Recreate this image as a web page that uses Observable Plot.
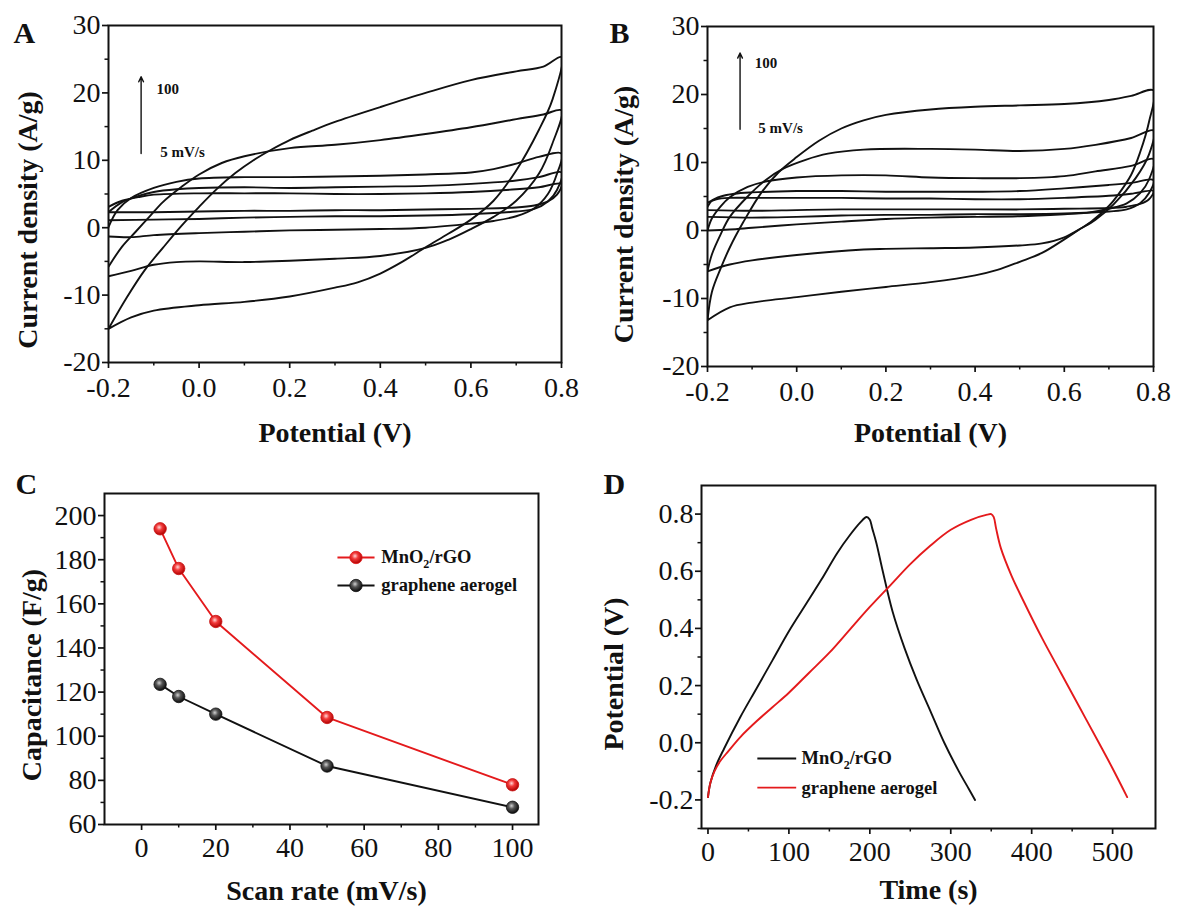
<!DOCTYPE html>
<html><head><meta charset="utf-8">
<script src="https://cdn.jsdelivr.net/npm/d3@7"></script>
<script src="https://cdn.jsdelivr.net/npm/@observablehq/plot@0.6"></script>
<style>
html,body{margin:0;padding:0;background:#fff;}
#fig{position:relative;width:1182px;height:911px;overflow:hidden;background:#fff;}
.panel{position:absolute;}
</style></head><body>
<svg width="0" height="0" style="position:absolute">
<defs>
<radialGradient id="ballRed" cx="42%" cy="38%" r="62%">
<stop offset="0%" stop-color="#ffd6d6"/><stop offset="40%" stop-color="#f23a3a"/><stop offset="100%" stop-color="#b00000"/>
</radialGradient>
<radialGradient id="ballBlack" cx="42%" cy="38%" r="62%">
<stop offset="0%" stop-color="#d0d0d0"/><stop offset="40%" stop-color="#555"/><stop offset="100%" stop-color="#0a0a0a"/>
</radialGradient>
</defs></svg>
<div id="fig"></div>
<script>
// ---------------- DATA ----------------
// Panel A: CV loops of MnO2/rGO (potential V, current A/g); upper branch then lower branch
const A5 = [[-0.2,3.1],[-0.17,4.0],[-0.13,4.6],[-0.1,4.9],[0.0,5.1],[0.1,5.1],[0.2,5.1],[0.3,5.0],[0.4,5.0],[0.5,5.1],[0.6,5.3],[0.7,5.7],[0.75,6.0],[0.8,6.5],
  [0.79,4.9],[0.77,3.9],[0.74,3.3],[0.7,3.0],[0.6,2.8],[0.5,2.7],[0.4,2.6],[0.3,2.6],[0.2,2.5],[0.1,2.5],[0.0,2.4],[-0.1,2.3],[-0.2,2.3]];
const A10 = [[-0.2,2.3],[-0.17,3.8],[-0.13,4.8],[-0.1,5.3],[-0.05,5.7],[0.0,5.9],[0.1,6.0],[0.2,5.9],[0.3,6.0],[0.4,6.1],[0.5,6.2],[0.6,6.5],[0.7,7.0],[0.75,7.5],[0.8,8.2],
  [0.79,5.6],[0.77,3.9],[0.74,2.8],[0.7,2.4],[0.6,2.0],[0.5,1.8],[0.4,1.7],[0.3,1.7],[0.2,1.6],[0.1,1.5],[0.0,1.3],[-0.1,1.2],[-0.2,1.1]];
const A20 = [[-0.2,0.1],[-0.18,2.6],[-0.15,4.4],[-0.1,5.9],[-0.05,6.8],[0.0,7.3],[0.1,7.5],[0.2,7.5],[0.3,7.6],[0.4,7.7],[0.5,7.9],[0.6,8.2],[0.65,8.7],[0.7,9.5],[0.75,10.5],[0.8,11.0],
  [0.79,8.0],[0.77,5.0],[0.74,2.9],[0.7,1.7],[0.65,1.0],[0.6,0.6],[0.5,0.0],[0.4,-0.2],[0.3,-0.3],[0.2,-0.4],[0.1,-0.6],[0.0,-0.8],[-0.1,-1.1],[-0.15,-1.4],[-0.2,-1.3]];
const A50 = [[-0.2,-5.8],[-0.17,-2.8],[-0.14,-0.6],[-0.11,1.6],[-0.08,3.8],[-0.04,6.0],[0.0,7.9],[0.05,9.6],[0.1,10.6],[0.2,11.8],[0.3,12.3],[0.4,13.0],[0.5,13.9],[0.6,14.9],[0.7,16.1],[0.76,16.8],[0.8,17.4],
  [0.78,12.5],[0.75,8.0],[0.7,4.0],[0.65,1.6],[0.6,-0.2],[0.55,-1.8],[0.5,-3.0],[0.4,-4.2],[0.3,-4.6],[0.2,-4.9],[0.1,-5.1],[0.0,-5.0],[-0.05,-5.1],[-0.1,-5.5],[-0.15,-6.4],[-0.2,-7.2]];
const A100 = [[-0.2,-15.0],[-0.16,-10.4],[-0.12,-6.3],[-0.08,-3.0],[-0.04,0.2],[0.0,3.1],[0.04,5.8],[0.08,8.1],[0.12,10.0],[0.16,11.6],[0.2,13.0],[0.25,14.4],[0.3,15.7],[0.4,17.9],[0.5,20.0],[0.6,21.9],[0.7,23.2],[0.76,23.9],[0.8,25.3],
  [0.78,19.0],[0.75,14.5],[0.7,8.5],[0.65,4.0],[0.6,1.2],[0.55,-0.9],[0.5,-2.9],[0.45,-5.0],[0.4,-6.8],[0.35,-8.1],[0.3,-8.9],[0.2,-10.2],[0.1,-11.0],[0.0,-11.5],[-0.1,-12.3],[-0.15,-13.3],[-0.2,-15.0]];

// Panel B: CV loops of graphene aerogel
const B5 = [[-0.2,4.1],[-0.18,4.6],[-0.15,4.8],[-0.1,4.8],[0.0,4.8],[0.1,4.8],[0.2,4.7],[0.3,4.7],[0.4,4.6],[0.5,4.6],[0.6,4.8],[0.7,5.1],[0.75,5.4],[0.8,5.8],
  [0.79,4.6],[0.77,3.9],[0.74,3.5],[0.7,3.3],[0.6,3.2],[0.5,3.1],[0.4,3.1],[0.3,3.1],[0.2,3.1],[0.1,3.1],[0.0,3.0],[-0.1,2.9],[-0.2,3.0]];
const B10 = [[-0.2,3.5],[-0.19,4.4],[-0.17,5.0],[-0.14,5.4],[-0.1,5.6],[0.0,5.8],[0.1,5.8],[0.2,5.7],[0.3,5.7],[0.4,5.7],[0.5,5.8],[0.6,6.2],[0.7,6.7],[0.75,7.0],[0.8,7.4],
  [0.79,5.5],[0.77,4.0],[0.74,3.1],[0.7,2.8],[0.6,2.5],[0.5,2.4],[0.4,2.4],[0.3,2.3],[0.2,2.3],[0.1,2.2],[0.0,2.0],[-0.1,1.9],[-0.2,2.0]];
const B20 = [[-0.2,0.0],[-0.19,1.8],[-0.17,3.6],[-0.15,4.9],[-0.11,6.4],[-0.07,7.2],[0.0,7.8],[0.1,8.1],[0.2,8.1],[0.3,7.8],[0.4,7.7],[0.5,7.7],[0.6,8.0],[0.67,8.7],[0.75,9.5],[0.8,10.5],
  [0.79,7.5],[0.77,5.5],[0.74,4.0],[0.7,3.2],[0.65,2.6],[0.6,2.4],[0.5,2.1],[0.4,2.0],[0.3,1.9],[0.2,1.7],[0.1,1.3],[0.0,0.9],[-0.1,0.4],[-0.15,0.15],[-0.2,0.0]];
const B50 = [[-0.2,-6.0],[-0.19,-3.5],[-0.17,-0.5],[-0.15,2.0],[-0.11,5.0],[-0.07,7.4],[-0.03,9.1],[0.02,10.4],[0.07,11.3],[0.15,11.9],[0.3,12.0],[0.4,11.9],[0.5,11.7],[0.6,12.0],[0.67,12.6],[0.75,13.6],[0.8,14.7],
  [0.79,11.2],[0.76,7.7],[0.71,3.8],[0.67,1.6],[0.64,0.4],[0.6,-1.0],[0.55,-1.9],[0.5,-2.2],[0.4,-2.5],[0.3,-2.6],[0.2,-2.7],[0.15,-2.8],[0.0,-3.6],[-0.1,-4.4],[-0.15,-5.0],[-0.2,-6.0]];
const B100 = [[-0.2,-13.2],[-0.19,-9.0],[-0.17,-5.5],[-0.15,-2.5],[-0.12,1.2],[-0.08,5.5],[-0.04,8.6],[0.0,10.8],[0.05,13.2],[0.1,15.0],[0.15,16.2],[0.2,17.0],[0.3,17.8],[0.4,18.2],[0.5,18.4],[0.6,18.6],[0.7,19.2],[0.75,19.8],[0.8,20.6],
  [0.79,16.0],[0.77,11.5],[0.75,8.2],[0.72,5.2],[0.7,3.6],[0.66,1.3],[0.63,0.0],[0.6,-1.3],[0.55,-3.3],[0.5,-4.6],[0.45,-5.8],[0.4,-6.6],[0.3,-7.6],[0.2,-8.3],[0.1,-9.0],[0.0,-9.8],[-0.1,-10.6],[-0.15,-11.3],[-0.2,-13.2]];

const scanRates = [5, 10, 20, 50, 100];

// Panel C: capacitance vs scan rate
const capScan = [5, 10, 20, 50, 100];
const capMnO2 = [194, 176, 152, 108.5, 78];
const capAerogel = [123.5, 118, 110, 86.5, 67.8];

// Panel D: galvanostatic charge/discharge
const gcdBlackT = [0,3,10,20,40,60,80,100,120,140,160,175,188,196,200,203,208,216,228,243,258,275,292,310,322,330];
const gcdBlackV = [-0.19,-0.14,-0.08,-0.02,0.09,0.19,0.29,0.39,0.48,0.57,0.665,0.725,0.77,0.79,0.78,0.75,0.70,0.60,0.46,0.33,0.22,0.11,0.0,-0.1,-0.16,-0.2];
const gcdRedT = [0,3,8,15,25,40,60,80,100,125,150,175,200,225,250,275,300,325,345,350,353,356,362,375,390,413,436,459,482,500,518];
const gcdRedV = [-0.19,-0.14,-0.10,-0.065,-0.03,0.02,0.075,0.125,0.175,0.245,0.315,0.395,0.475,0.55,0.625,0.69,0.745,0.78,0.798,0.8,0.79,0.75,0.68,0.585,0.495,0.365,0.245,0.125,0.005,-0.09,-0.19];

// tick values
const cvXMajor = [-0.2, 0.0, 0.2, 0.4, 0.6, 0.8];
const cvXMinor = [-0.1, 0.1, 0.3, 0.5, 0.7];
const cvYMajor = [-20, -10, 0, 10, 20, 30];
const cvYMinor = [-15, -5, 5, 15, 25];
const cXMajor = [0, 20, 40, 60, 80, 100];
const cXMinor = [10, 30, 50, 70, 90];
const cYMajor = [60, 80, 100, 120, 140, 160, 180, 200];
const cYMinor = [70, 90, 110, 130, 150, 170, 190];
const dXMajor = [0, 100, 200, 300, 400, 500];
const dXMinor = [50, 150, 250, 350, 450];
const dYMajor = [-0.2, 0.0, 0.2, 0.4, 0.6, 0.8];
const dYMinor = [-0.3, -0.1, 0.1, 0.3, 0.5, 0.7];

// ---------------- DRAW ----------------
const FONT = "'Liberation Serif','Times New Roman',Times,serif";
const INK = "#111";
const RED = "#e41a1c";
const TICK_FS = 28;
const LABEL_FS = 28;
const fig = document.getElementById("fig");
const fmt1 = d => d.toFixed(1);
const fmt0 = d => String(d);

function place(svg, left, top) {
  const d = document.createElement("div");
  d.className = "panel"; d.style.left = left + "px"; d.style.top = top + "px";
  d.appendChild(svg); fig.appendChild(d);
  // subscript for MnO2
  d.querySelectorAll("text").forEach(t => {
    if (t.textContent === "MnO2/rGO") {
      t.textContent = "";
      const ns = "http://www.w3.org/2000/svg";
      const a = document.createElementNS(ns, "tspan"); a.textContent = "MnO";
      const b = document.createElementNS(ns, "tspan"); b.textContent = "2"; b.setAttribute("dy", "0.35em"); b.setAttribute("font-size", "65%");
      const c = document.createElementNS(ns, "tspan"); c.textContent = "/rGO"; c.setAttribute("dy", "-0.23em");
      t.append(a, b, c);
    }
  });
}

function axes(xMajor, xMinor, yMajor, yMinor, xfmt, yfmt, xpad) {
  return [
    Plot.axisX({ticks: xMajor, tickSize: 6, tickPadding: xpad, tickFormat: xfmt, fontSize: TICK_FS, label: null, strokeWidth: 1.7, stroke: INK, fill: INK}),
    Plot.axisX({ticks: xMinor, tickSize: 3.5, tickFormat: () => "", label: null, strokeWidth: 1.5, stroke: INK}),
    Plot.axisY({ticks: yMajor, tickSize: 6, tickPadding: 2, tickFormat: yfmt, fontSize: TICK_FS, label: null, strokeWidth: 1.7, stroke: INK, fill: INK}),
    Plot.axisY({ticks: yMinor, tickSize: 3.5, tickFormat: () => "", label: null, strokeWidth: 1.5, stroke: INK}),
    Plot.frame({stroke: INK, strokeWidth: 2})
  ];
}

function labels(xl, yl, o) {
  return [
    Plot.text([xl], {text: d => d, frameAnchor: "bottom", dx: o.xdx || 0, dy: o.xdy, textAnchor: "middle", lineAnchor: "middle", fontSize: LABEL_FS, fontWeight: "bold", fill: INK}),
    Plot.text([yl], {text: d => d, frameAnchor: "left", dx: o.ydx, dy: o.ydy, rotate: -90, textAnchor: "middle", lineAnchor: "middle", fontSize: LABEL_FS, fontWeight: "bold", fill: INK}),
    Plot.text([o.letter], {text: d => d, frameAnchor: "top-left", dx: o.ldx, dy: o.ldy, textAnchor: "start", lineAnchor: "bottom", fontSize: 30, fontWeight: "bold", fill: INK})
  ];
}

function cvRows(loops) {
  const rows = [];
  loops.forEach((pts, k) => pts.forEach(([x, y]) => rows.push({rate: scanRates[k], x, y})));
  return rows;
}

function cvPanel(loops, arrow, notes, lay) {
  return Plot.plot({
    width: lay.width, height: lay.height,
    marginTop: lay.mt, marginRight: lay.mr, marginBottom: lay.mb, marginLeft: lay.ml,
    x: {domain: [-0.2, 0.8]}, y: {domain: [-20, 30]},
    style: {fontFamily: FONT, background: "transparent", color: INK, overflow: "visible"},
    marks: [
      Plot.line(cvRows(loops), {x: "x", y: "y", z: "rate", stroke: INK, strokeWidth: 1.9, curve: "catmull-rom", clip: true}),
      Plot.arrow(arrow, {x1: "x", x2: "x", y1: "y1", y2: "y2", stroke: INK, strokeWidth: 1.4, headLength: 6, headAngle: 50}),
      Plot.text(notes, {x: "x", y: "y", text: "t", textAnchor: "start", fontSize: 15, fontWeight: "bold", fill: INK}),
      ...axes(cvXMajor, cvXMinor, cvYMajor, cvYMinor, fmt1, fmt0, 9),
      ...labels("Potential (V)", "Current density (A/g)", lay)
    ]
  });
}

// Panel A
place(cvPanel([A5, A10, A20, A50, A100],
  [{x: -0.128, y1: 11.0, y2: 22.4}],
  [{x: -0.094, y: 20.6, t: "100"}, {x: -0.086, y: 11.2, t: "5 mV/s"}],
  {width: 590, height: 450, mt: 25, mr: 29, mb: 88, ml: 108, xdy: 71, ydx: -80, ydy: 26, letter: "A", ldx: -95, ldy: 17}), 0, 0);

// Panel B
place(cvPanel([B5, B10, B20, B50, B100],
  [{x: -0.127, y1: 14.9, y2: 26.1}],
  [{x: -0.094, y: 24.6, t: "100"}, {x: -0.086, y: 15.0, t: "5 mV/s"}],
  {width: 592, height: 450, mt: 26, mr: 29, mb: 84, ml: 117, xdy: 67, ydx: -83, ydy: 18, letter: "B", ldx: -98, ldy: 16}), 590, 0);

// Panel C
const capRows = [
  ...capScan.map((s, i) => ({s, c: capMnO2[i], series: "MnO2/rGO"})),
  ...capScan.map((s, i) => ({s, c: capAerogel[i], series: "graphene aerogel"}))
];
const legendC = [
  {label: "MnO2/rGO", color: RED, ball: "url(#ballRed)", y: 181},
  {label: "graphene aerogel", color: INK, ball: "url(#ballBlack)", y: 168.3}
];
const plotC = Plot.plot({
  width: 590, height: 461, marginTop: 43, marginRight: 52, marginBottom: 87, marginLeft: 104,
  x: {domain: [-10, 107]}, y: {domain: [60, 210]},
  style: {fontFamily: FONT, background: "transparent", color: INK, overflow: "visible"},
  marks: [
    Plot.line(capRows.filter(d => d.series === "MnO2/rGO"), {x: "s", y: "c", stroke: RED, strokeWidth: 1.9}),
    Plot.line(capRows.filter(d => d.series !== "MnO2/rGO"), {x: "s", y: "c", stroke: INK, strokeWidth: 1.9}),
    Plot.dot(capRows.filter(d => d.series === "MnO2/rGO"), {x: "s", y: "c", r: 6.2, fill: "url(#ballRed)", stroke: "#c81010", strokeWidth: 0.8}),
    Plot.dot(capRows.filter(d => d.series !== "MnO2/rGO"), {x: "s", y: "c", r: 6.2, fill: "url(#ballBlack)", stroke: "#111", strokeWidth: 0.8}),
    Plot.link(legendC, {x1: () => 52.8, x2: () => 62.8, y1: "y", y2: "y", stroke: "color", strokeWidth: 1.9}),
    Plot.dot(legendC, {x: () => 57.8, y: "y", r: 6.2, fill: "ball", stroke: "color", strokeWidth: 0.8}),
    Plot.text(legendC, {x: () => 64.6, y: "y", text: "label", textAnchor: "start", fontSize: 18.5, fontWeight: "bold", fill: INK}),
    ...axes(cXMajor, cXMinor, cYMajor, cYMinor, fmt0, fmt0, 7),
    ...labels("Scan rate (mV/s)", "Capacitance (F/g)", {xdx: 5, xdy: 67, ydx: -72, ydy: 16, letter: "C", ldx: -89, ldy: 0})
  ]
});
place(plotC, 0, 450);

// Panel D
const gcdBlack = gcdBlackT.map((t, i) => ({t, v: gcdBlackV[i]}));
const gcdRed = gcdRedT.map((t, i) => ({t, v: gcdRedV[i]}));
const legendD = [
  {label: "MnO2/rGO", color: INK, y: -0.055},
  {label: "graphene aerogel", color: RED, y: -0.157}
];
const plotD = Plot.plot({
  width: 592, height: 461, marginTop: 35, marginRight: 27, marginBottom: 83, marginLeft: 111,
  x: {domain: [-8, 553]}, y: {domain: [-0.3, 0.9]},
  style: {fontFamily: FONT, background: "transparent", color: INK, overflow: "visible"},
  marks: [
    Plot.line(gcdBlack, {x: "t", y: "v", stroke: INK, strokeWidth: 1.9, curve: "catmull-rom"}),
    Plot.line(gcdRed, {x: "t", y: "v", stroke: RED, strokeWidth: 1.9, curve: "catmull-rom"}),
    Plot.link(legendD, {x1: () => 61, x2: () => 109, y1: "y", y2: "y", stroke: "color", strokeWidth: 1.9}),
    Plot.text(legendD, {x: () => 115.6, y: "y", text: "label", textAnchor: "start", fontSize: 18.5, fontWeight: "bold", fill: INK}),
    ...axes(dXMajor, dXMinor, dYMajor, dYMinor, fmt0, fmt1, 7),
    ...labels("Time (s)", "Potential (V)", {xdy: 62, ydx: -87, ydy: 17, letter: "D", ldx: -98, ldy: 8})
  ]
});
place(plotD, 590, 450);
</script>
</body></html>
